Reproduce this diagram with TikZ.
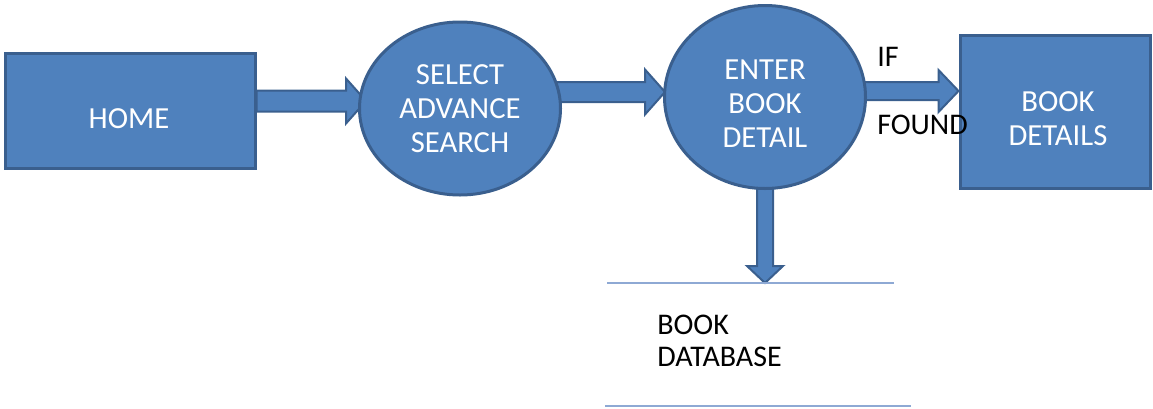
\documentclass[tikz,border=0pt]{standalone}
\usepackage{fontspec}
\setmainfont{Carlito}
\usetikzlibrary{shapes.geometric,calc,backgrounds}
\definecolor{fillblue}{HTML}{4F81BD}
\definecolor{edgeblue}{HTML}{3A5F8E}
\definecolor{lineblue}{HTML}{8EA9D4}
\tikzset{
  boxnode/.style={rectangle,draw=edgeblue,fill=fillblue,line width=2.25pt,inner sep=0pt},
  ellnode/.style={ellipse,draw=edgeblue,fill=fillblue,line width=2.25pt,inner sep=0pt},
  wtext/.style={text=white,align=center,font=\fontsize{23pt}{25.5pt}\selectfont,inner sep=0pt},
  btext/.style={text=black,align=left,font=\fontsize{22.5pt}{23.5pt}\selectfont,inner sep=0pt},
  barrow/.style={draw=edgeblue,fill=fillblue,line width=1.5pt,line join=miter},
  storeline/.style={draw=lineblue,line width=1.2pt}
}
\begin{document}
\begin{tikzpicture}[x=0.75pt,y=-0.75pt]
\useasboundingbox (0,0) rectangle (1153,408);
% nodes
\node[boxnode,minimum width=187.5pt,minimum height=86.25pt] (home) at (130,111) {};
\node[wtext] (homet) at (129,119) {HOME};
\node[ellnode,minimum width=150.75pt,minimum height=129.75pt] (sel) at (460,108.5) {};
\node[wtext] (selt) at (460,109) {SELECT\\ADVANCE\\SEARCH};
\node[ellnode,minimum width=150.75pt,minimum height=137.25pt] (ent) at (765,97) {};
\node[wtext] (entt) at (765,104) {ENTER\\BOOK\\DETAIL};
\node[boxnode,minimum width=142.5pt,minimum height=114.75pt] (det) at (1055,111.5) {};
\node[wtext] (dett) at (1058,118.5) {BOOK\\DETAILS};
\node[btext,anchor=west] (ift) at (877,57) {IF};
\node[btext,anchor=west] (foundt) at (877,125) {FOUND};
\node[btext,anchor=west] (dbt) at (657,341) {BOOK\\DATABASE};
% data store lines
\coordinate (s1a) at (607,283);
\coordinate (s1b) at (894,283);
\coordinate (s2a) at (605,406);
\coordinate (s2b) at (911,406);
\draw[storeline] (s1a) -- (s1b);
\draw[storeline] (s2a) -- (s2b);
% block arrows on background
\begin{scope}[on background layer]
\coordinate (a1s) at (home.east |- 0,101);
\coordinate (a1e) at ($(sel.west |- 0,101)+(8,0)$);
\draw[barrow] ($(a1s)+(0,-10.5)$) -- ($(a1e)+(-20,-10.5)$) -- ($(a1e)+(-20,-22.5)$) -- (a1e)
  -- ($(a1e)+(-20,22.5)$) -- ($(a1e)+(-20,10.5)$) -- ($(a1s)+(0,10.5)$) -- cycle;
\coordinate (a2s) at ($(sel.east |- 0,92)+(-6,0)$);
\coordinate (a2e) at ($(ent.west |- 0,92)+(2,0)$);
\draw[barrow] ($(a2s)+(0,-10)$) -- ($(a2e)+(-20,-10)$) -- ($(a2e)+(-20,-22.5)$) -- (a2e)
  -- ($(a2e)+(-20,22.5)$) -- ($(a2e)+(-20,10)$) -- ($(a2s)+(0,10)$) -- cycle;
\coordinate (a3s) at ($(ent.east |- 0,91)+(-6,0)$);
\coordinate (a3e) at (det.west |- 0,91);
\draw[barrow] ($(a3s)+(0,-9)$) -- ($(a3e)+(-20,-9)$) -- ($(a3e)+(-20,-21)$) -- (a3e)
  -- ($(a3e)+(-20,21)$) -- ($(a3e)+(-20,9)$) -- ($(a3s)+(0,9)$) -- cycle;
\coordinate (a4s) at ($(ent.south)+(0,-6)$);
\coordinate (a4e) at (s1a -| ent.south);
\draw[barrow] ($(a4s)+(-8,0)$) -- ($(a4e)+(-8,-17)$) -- ($(a4e)+(-18,-17)$) -- (a4e)
  -- ($(a4e)+(18,-17)$) -- ($(a4e)+(8,-17)$) -- ($(a4s)+(8,0)$) -- cycle;
\end{scope}
\end{tikzpicture}
\end{document}
